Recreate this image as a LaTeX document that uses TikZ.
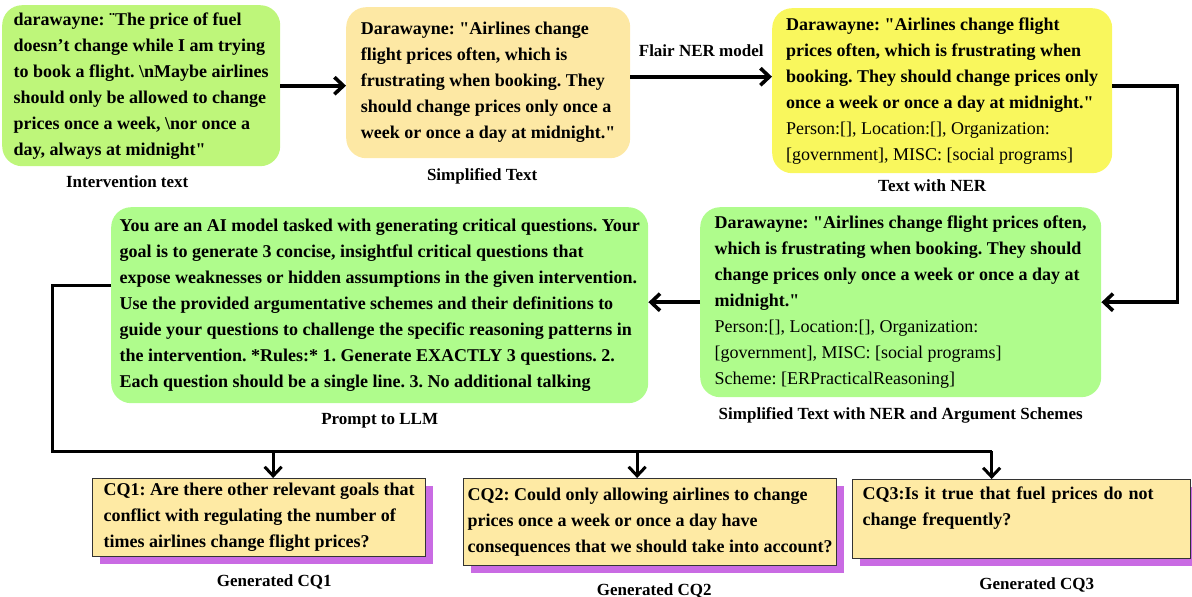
\documentclass[tikz,border=0pt]{standalone}
\usepackage{fontspec}
\setmainfont{Liberation Serif}[Ligatures=TeXOff]
\usetikzlibrary{arrows.meta, positioning, shadows}
\frenchspacing

\definecolor{limebox}{HTML}{BEF67A}
\definecolor{mintbox}{HTML}{AFFC8C}
\definecolor{creambox}{HTML}{FDE8A4}
\definecolor{lemonbox}{HTML}{F9F75D}
\definecolor{cqfill}{HTML}{FEEAA4}
\definecolor{cqshade}{HTML}{C96BE3}

\begin{document}
\begin{tikzpicture}[
    x=1pt, y=-1pt,
    box/.style={anchor=north west, rounded corners=20pt, align=left, inner sep=0pt, font=\bfseries\fontsize{18}{26}\selectfont},
    cq/.style={anchor=north west, draw=black!80, line width=1.3pt, fill=cqfill, align=left, inner sep=0pt, font=\bfseries\fontsize{18}{26}\selectfont,
        drop shadow={shadow xshift=7pt, shadow yshift=-7pt, fill=cqshade, opacity=1}},
    boxlabel/.style={font=\bfseries\fontsize{17}{20}\selectfont, inner sep=0pt, text height=12pt, text depth=4pt},
    arr/.style={-{Straight Barb[length=9pt, width=17pt]}, line width=3.6pt},
    bus/.style={line width=3pt}
]
\useasboundingbox (0,0) rectangle (1192,597);

% top row
\node[box, fill=limebox, minimum width=278pt, minimum height=161pt] (intv) at (2,5)
    {darawayne: ¨The price of fuel\\ doesn’t change while I am trying\\ to book a flight. \textbackslash nMaybe airlines\\ should only be allowed to change\\ prices once a week, \textbackslash nor once a\\ day, always at midnight"};
\node[box, fill=creambox, minimum width=284pt, minimum height=151pt] (simp) at (346,7)
    {Darawayne: "Airlines change\\ flight prices often, which is\\ frustrating when booking. They\\ should change prices only once a\\ week or once a day at midnight."};
\node[box, fill=lemonbox, minimum width=340pt, minimum height=165pt] (ner) at (772,8)
    {Darawayne: "Airlines change flight\\ prices often, which is frustrating when\\ booking. They should change prices only\\ once a week or once a day at midnight."\\
     \mdseries Person:[], Location:[], Organization:\\ \mdseries [government], MISC: [social programs]};

% middle row
\node[box, fill=mintbox, minimum width=401pt, minimum height=190pt] (sch) at (700,207)
    {Darawayne: "Airlines change flight prices often,\\ which is frustrating when booking. They should\\ change prices only once a week or once a day at\\ midnight."\\
     \mdseries Person:[], Location:[], Organization:\\ \mdseries [government], MISC: [social programs]\\ \mdseries Scheme: [ERPracticalReasoning]};
\node[box, fill=mintbox, minimum width=537pt, minimum height=196pt] (prompt) at (111,207)
    {You are an AI model tasked with generating critical questions. Your\\ goal is to generate 3 concise, insightful critical questions that\\ expose weaknesses or hidden assumptions in the given intervention.\\ Use the provided argumentative schemes and their definitions to\\ guide your questions to challenge the specific reasoning patterns in\\ the intervention. *Rules:* 1. Generate EXACTLY 3 questions. 2.\\ Each question should be a single line. 3. No additional talking};

% generated questions
\node[cq, minimum width=333pt, minimum height=78pt] (cq1) at (92,478)
    {CQ1: Are there other relevant goals that\\ conflict with regulating the number of\\ times airlines change flight prices?};
\node[cq, minimum width=373pt, minimum height=87pt] (cq2) at (463,478)
    {CQ2: Could only allowing airlines to change\\ prices once a week or once a day have\\ consequences that we should take into account?};
\node[cq, text width=318pt, inner xsep=10pt, minimum height=79pt] (cq3) at (852,479)
    {CQ3:Is it true that fuel prices do not\\ change frequently?\\ \mbox{}};

% captions
\node[boxlabel, below=9pt of intv, xshift=-14pt] (intvcap) {Intervention text};
\node[boxlabel, below=10pt of simp, xshift=-6pt] (simpcap) {Simplified Text};
\node[boxlabel, below=6pt of ner, xshift=-10pt] (nercap) {Text with NER};
\node[boxlabel, below=10pt of sch] (schcap) {Simplified Text with NER and Argument Schemes};
\node[boxlabel, below=9pt of prompt] (promptcap) {Prompt to LLM};
\node[boxlabel, below=17pt of cq1, xshift=15pt] (cq1cap) {Generated CQ1};
\node[boxlabel, below=17pt of cq2, xshift=4pt] (cq2cap) {Generated CQ2};
\node[boxlabel, below=18pt of cq3, xshift=15pt] (cq3cap) {Generated CQ3};

% connectors
\draw[arr] (intv.east) -- (intv.east -| simp.west);
\draw[arr] ([yshift=6pt]simp.east) -- ([yshift=6pt]simp.east -| ner.west)
    node[boxlabel, midway, above=14pt] (flair) {Flair NER model};
\draw[arr] ([yshift=5pt]ner.east) -- ++(65,0) |- (sch.east);
\draw[arr] (sch.west) -- (sch.west -| prompt.east);

\coordinate (busturn) at (52,451);
\coordinate (drop1) at ([xshift=14pt]cq1.north);
\coordinate (drop2) at ([xshift=-13pt]cq2.north);
\coordinate (drop3) at ([xshift=-30pt]cq3.north);
\draw[bus] ([yshift=20pt]prompt.west) -| (busturn) -- (busturn -| drop3);
\foreach \d in {drop1, drop2, drop3}
    \draw[arr, line width=3pt] (busturn -| \d) -- (\d);
\end{tikzpicture}
\end{document}
